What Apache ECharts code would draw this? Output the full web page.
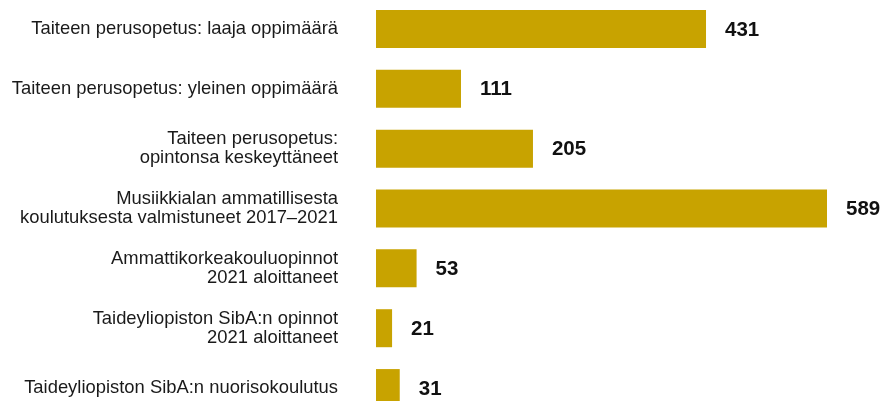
<!DOCTYPE html>
<html>
<head>
<meta charset="utf-8">
<style>
  html, body { margin: 0; padding: 0; background: #fff; }
  #chart { width: 883px; height: 401px; }
</style>
<script src="https://cdn.jsdelivr.net/npm/echarts@6/dist/echarts.min.js"></script>
</head>
<body>
<div id="chart"></div>
<script>
// categories (top to bottom)
const categories = [
    'Taiteen perusopetus: laaja oppimäärä',
    'Taiteen perusopetus: yleinen oppimäärä',
    'Taiteen perusopetus:\nopintonsa keskeyttäneet',
    'Musiikkialan ammatillisesta\nkoulutuksesta valmistuneet 2017–2021',
    'Ammattikorkeakouluopinnot\n2021 aloittaneet',
    'Taideyliopiston SibA:n opinnot\n2021 aloittaneet',
    'Taideyliopiston SibA:n nuorisokoulutus'
];
const values = [431, 111, 205, 589, 53, 21, 31];

const myChart = echarts.init(document.getElementById('chart'));
myChart.setOption({
    animation: false,
    grid: {
        left: 376,
        right: 56,
        top: -1,
        bottom: -17,
        outerBoundsMode: 'none'
    },
    xAxis: {
        type: 'value',
        min: 0,
        max: 589,
        show: false
    },
    yAxis: {
        type: 'category',
        inverse: true,
        data: categories,
        axisLine: { show: false },
        axisTick: { show: false },
        splitLine: { show: false },
        axisLabel: {
            margin: 38,
            fontFamily: 'Liberation Sans, Arial, sans-serif',
            fontSize: 18.4,
            lineHeight: 18.5,
            color: '#1a1a1a',
            align: 'right'
        }
    },
    series: [
        {
            type: 'bar',
            data: values,
            barWidth: 38,
            itemStyle: { color: '#c8a300' },
            label: {
                show: true,
                position: 'right',
                distance: 19,
                offset: [0, 1],
                fontFamily: 'Liberation Sans, Arial, sans-serif',
                fontSize: 20.5,
                fontWeight: 'bold',
                color: '#111'
            }
        }
    ]
});
</script>
</body>
</html>
